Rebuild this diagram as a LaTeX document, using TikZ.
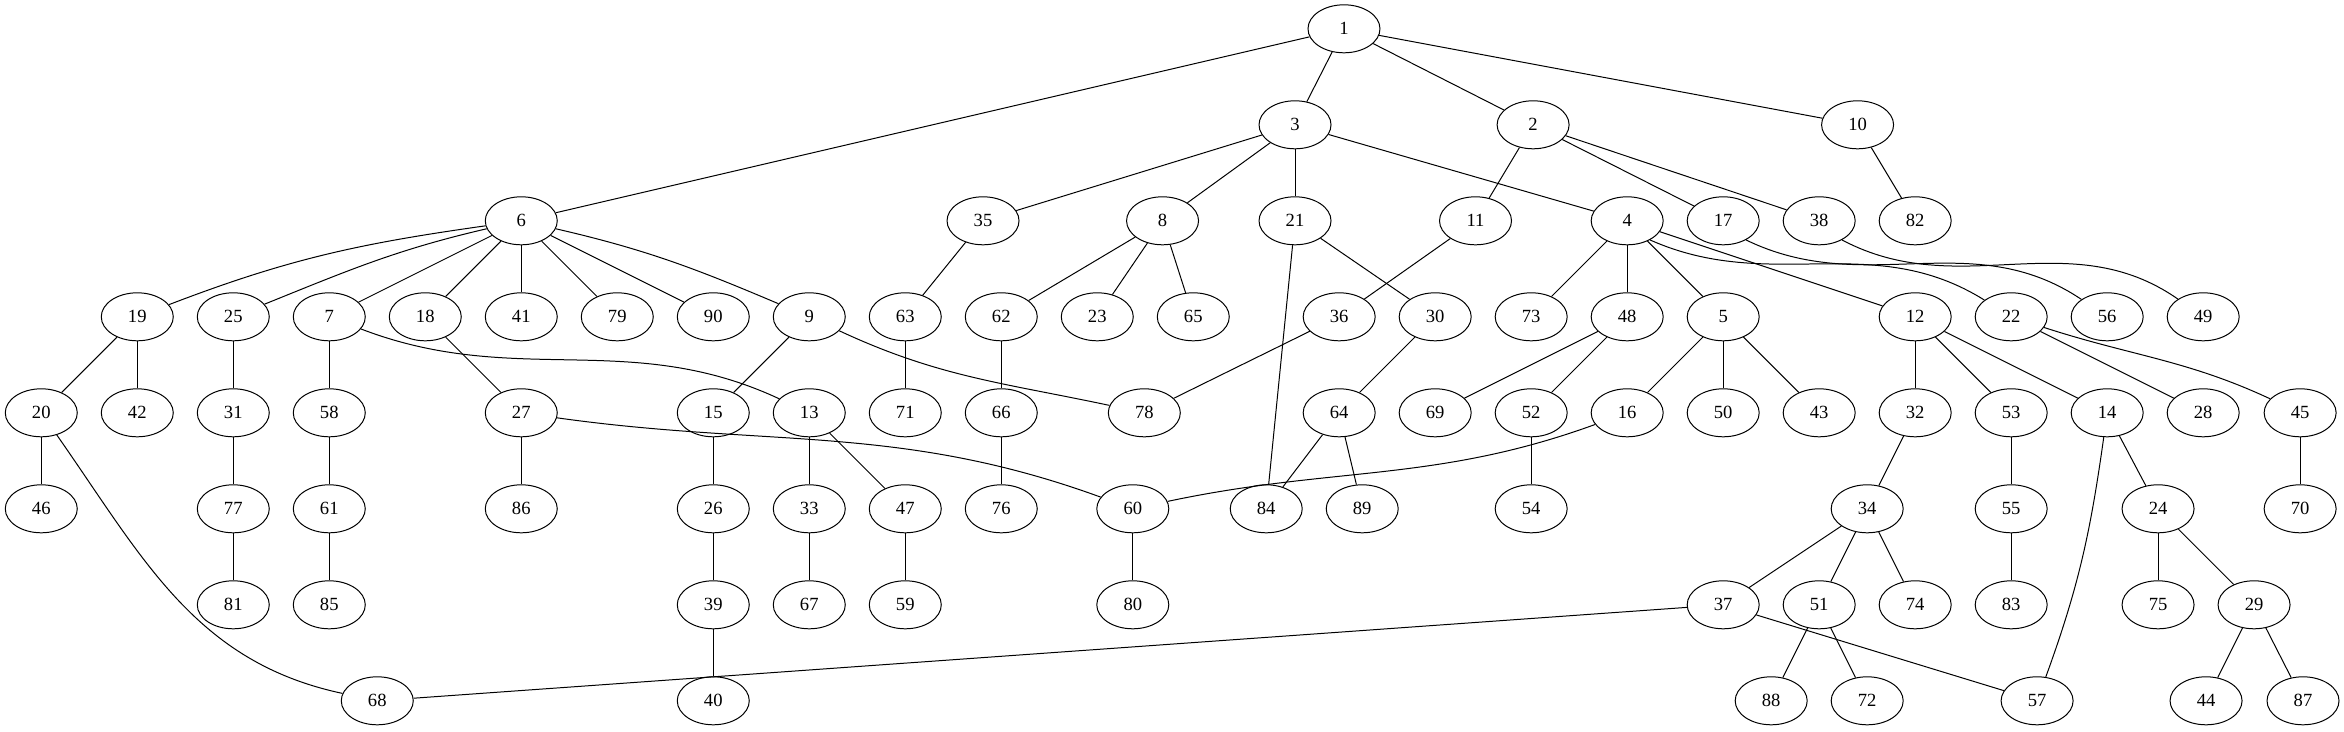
\documentclass[tikz,border=0pt]{standalone}
\usepackage{fontspec}
\setmainfont{Liberation Serif}
\usepackage{tikz}
\usetikzlibrary{shapes.geometric}

\tikzset{
  vtx/.style={draw=black,ellipse,line width=0.75pt,minimum width=0.75in,minimum height=0.5in,inner sep=0pt,font=\fontsize{14}{16}\selectfont},
  link/.style={draw=black,line width=0.75pt}
}

\begin{document}
\begin{tikzpicture}[x=1in,y=1in]
    \useasboundingbox (-0.43,0.30) rectangle (23.987,-7.315);
    % rank 0 and 1
    \node[vtx] (n1) at (13.57,0) {1};
    \node[vtx] (n3) at (13.06,-1) {3};
    \node[vtx] (n2) at (15.54,-1) {2};
    \node[vtx] (n10) at (18.92,-1) {10};

    % rank 2
    \node[vtx] (n6) at (5,-2) {6};
    \node[vtx] (n35) at (9.81,-2) {35};
    \node[vtx] (n8) at (11.68,-2) {8};
    \node[vtx] (n21) at (13.06,-2) {21};
    \node[vtx] (n11) at (14.94,-2) {11};
    \node[vtx] (n4) at (16.52,-2) {4};
    \node[vtx] (n17) at (17.52,-2) {17};
    \node[vtx] (n38) at (18.52,-2) {38};
    \node[vtx] (n82) at (19.52,-2) {82};

    % rank 3
    \node[vtx] (n19) at (1,-3) {19};
    \node[vtx] (n25) at (2,-3) {25};
    \node[vtx] (n7) at (3,-3) {7};
    \node[vtx] (n18) at (4,-3) {18};
    \node[vtx] (n41) at (5,-3) {41};
    \node[vtx] (n79) at (6,-3) {79};
    \node[vtx] (n90) at (7,-3) {90};
    \node[vtx] (n9) at (8,-3) {9};
    \node[vtx] (n63) at (9,-3) {63};
    \node[vtx] (n62) at (10,-3) {62};
    \node[vtx] (n23) at (11,-3) {23};
    \node[vtx] (n65) at (12,-3) {65};
    \node[vtx] (n36) at (13.52,-3) {36};
    \node[vtx] (n30) at (14.52,-3) {30};
    \node[vtx] (n73) at (15.52,-3) {73};
    \node[vtx] (n48) at (16.52,-3) {48};
    \node[vtx] (n5) at (17.52,-3) {5};
    \node[vtx] (n12) at (19.52,-3) {12};
    \node[vtx] (n22) at (20.52,-3) {22};
    \node[vtx] (n56) at (21.52,-3) {56};
    \node[vtx] (n49) at (22.52,-3) {49};

    % rank 4
    \node[vtx] (n20) at (0,-4) {20};
    \node[vtx] (n42) at (1,-4) {42};
    \node[vtx] (n31) at (2,-4) {31};
    \node[vtx] (n58) at (3,-4) {58};
    \node[vtx] (n27) at (5,-4) {27};
    \node[vtx] (n15) at (7,-4) {15};
    \node[vtx] (n13) at (8,-4) {13};
    \node[vtx] (n71) at (9,-4) {71};
    \node[vtx] (n66) at (10,-4) {66};
    \node[vtx] (n78) at (11.49,-4) {78};
    \node[vtx] (n64) at (13.52,-4) {64};
    \node[vtx] (n69) at (14.52,-4) {69};
    \node[vtx] (n52) at (15.52,-4) {52};
    \node[vtx] (n16) at (16.52,-4) {16};
    \node[vtx] (n50) at (17.52,-4) {50};
    \node[vtx] (n43) at (18.52,-4) {43};
    \node[vtx] (n32) at (19.52,-4) {32};
    \node[vtx] (n53) at (20.52,-4) {53};
    \node[vtx] (n14) at (21.52,-4) {14};
    \node[vtx] (n28) at (22.52,-4) {28};
    \node[vtx] (n45) at (23.53,-4) {45};

    % rank 5
    \node[vtx] (n46) at (0,-5) {46};
    \node[vtx] (n77) at (2,-5) {77};
    \node[vtx] (n61) at (3,-5) {61};
    \node[vtx] (n86) at (5,-5) {86};
    \node[vtx] (n26) at (7,-5) {26};
    \node[vtx] (n33) at (8,-5) {33};
    \node[vtx] (n47) at (9,-5) {47};
    \node[vtx] (n76) at (10,-5) {76};
    \node[vtx] (n60) at (11.37,-5) {60};
    \node[vtx] (n84) at (12.76,-5) {84};
    \node[vtx] (n89) at (13.76,-5) {89};
    \node[vtx] (n54) at (15.52,-5) {54};
    \node[vtx] (n34) at (19.02,-5) {34};
    \node[vtx] (n55) at (20.52,-5) {55};
    \node[vtx] (n24) at (22.05,-5) {24};
    \node[vtx] (n70) at (23.53,-5) {70};

    % rank 6
    \node[vtx] (n81) at (2,-6) {81};
    \node[vtx] (n85) at (3,-6) {85};
    \node[vtx] (n39) at (7,-6) {39};
    \node[vtx] (n67) at (8,-6) {67};
    \node[vtx] (n59) at (9,-6) {59};
    \node[vtx] (n80) at (11.37,-6) {80};
    \node[vtx] (n37) at (17.52,-6) {37};
    \node[vtx] (n51) at (18.52,-6) {51};
    \node[vtx] (n74) at (19.52,-6) {74};
    \node[vtx] (n83) at (20.52,-6) {83};
    \node[vtx] (n75) at (22.05,-6) {75};
    \node[vtx] (n29) at (23.05,-6) {29};

    % rank 7
    \node[vtx] (n68) at (3.5,-7) {68};
    \node[vtx] (n40) at (7,-7) {40};
    \node[vtx] (n88) at (18.02,-7) {88};
    \node[vtx] (n72) at (19.02,-7) {72};
    \node[vtx] (n57) at (20.79,-7) {57};
    \node[vtx] (n44) at (22.55,-7) {44};
    \node[vtx] (n87) at (23.56,-7) {87};

    % edges
    \draw[link] (n1) -- (n3);
    \draw[link] (n1) -- (n2);
    \draw[link] (n1) -- (n10);
    \draw[link] (n1) -- (n6);
    \draw[link] (n3) -- (n35);
    \draw[link] (n3) -- (n8);
    \draw[link] (n3) -- (n21);
    \draw[link] (n3) -- (n4);
    \draw[link] (n2) -- (n11);
    \draw[link] (n2) -- (n17);
    \draw[link] (n2) -- (n38);
    \draw[link] (n10) -- (n82);

    \draw[link] (n6) to[out=188,in=21] (n19);
    \draw[link] (n6) to[out=193,in=22] (n25);
    \draw[link] (n6) -- (n7);
    \draw[link] (n6) -- (n18);
    \draw[link] (n6) -- (n41);
    \draw[link] (n6) -- (n79);
    \draw[link] (n6) -- (n90);
    \draw[link] (n6) to[out=-13,in=157] (n9);
    \draw[link] (n35) -- (n63);
    \draw[link] (n8) -- (n62);
    \draw[link] (n8) -- (n23);
    \draw[link] (n8) -- (n65);
    \draw[link] (n21) -- (n30);
    \draw[link] (n21) -- (n84);
    \draw[link] (n11) -- (n36);
    \draw[link] (n4) -- (n73);
    \draw[link] (n4) -- (n48);
    \draw[link] (n4) -- (n5);
    \draw[link] (n4) -- (n12);
    \draw[link] (n4.-40) to[out=-24,in=148] (n22);
    \draw[link] (n17.-40) to[out=-26,in=146] (n56);
    \draw[link] (n38.-40) to[out=-28,in=145] (n49);

    \draw[link] (n19) -- (n20);
    \draw[link] (n19) -- (n42);
    \draw[link] (n25) -- (n31);
    \draw[link] (n7) -- (n58);
    \draw[link] (n7) to[out=-21,in=155] (n13);
    \draw[link] (n18) -- (n27);
    \draw[link] (n9) -- (n15);
    \draw[link] (n9) to[out=-25,in=168] (n78);
    \draw[link] (n63) -- (n71);
    \draw[link] (n62) -- (n66);
    \draw[link] (n36) -- (n78);
    \draw[link] (n30) -- (n64);
    \draw[link] (n48) -- (n69);
    \draw[link] (n48) -- (n52);
    \draw[link] (n5) -- (n16);
    \draw[link] (n5) -- (n50);
    \draw[link] (n5) -- (n43);
    \draw[link] (n12) -- (n32);
    \draw[link] (n12) -- (n53);
    \draw[link] (n12) -- (n14);
    \draw[link] (n22) -- (n28);
    \draw[link] (n22) to[out=-18,in=155] (n45);

    \draw[link] (n20) -- (n46);
    \draw[link] (n20) to[out=-55,in=168] (n68);
    \draw[link] (n31) -- (n77);
    \draw[link] (n58) -- (n61);
    \draw[link] (n27) -- (n86);
    \draw[link] (n27) to[out=-8,in=160] (n60);
    \draw[link] (n15) -- (n26);
    \draw[link] (n13) -- (n33);
    \draw[link] (n13) -- (n47);
    \draw[link] (n66) -- (n76);
    \draw[link] (n64) -- (n84);
    \draw[link] (n64) -- (n89);
    \draw[link] (n52) -- (n54);
    \draw[link] (n16) to[out=200,in=12] (n60);
    \draw[link] (n32) -- (n34);
    \draw[link] (n53) -- (n55);
    \draw[link] (n14) -- (n24);
    \draw[link] (n14) to[out=-98,in=70] (n57);
    \draw[link] (n45) -- (n70);

    \draw[link] (n77) -- (n81);
    \draw[link] (n61) -- (n85);
    \draw[link] (n26) -- (n39);
    \draw[link] (n33) -- (n67);
    \draw[link] (n47) -- (n59);
    \draw[link] (n60) -- (n80);
    \draw[link] (n34) -- (n37);
    \draw[link] (n34) -- (n51);
    \draw[link] (n34) -- (n74);
    \draw[link] (n55) -- (n83);
    \draw[link] (n24) -- (n75);
    \draw[link] (n24) -- (n29);

    \draw[link] (n39) -- (n40);
    \draw[link] (n37) -- (n68);
    \draw[link] (n37) -- (n57);
    \draw[link] (n51) -- (n88);
    \draw[link] (n51) -- (n72);
    \draw[link] (n29) -- (n44);
    \draw[link] (n29) -- (n87);
\end{tikzpicture}
\end{document}
